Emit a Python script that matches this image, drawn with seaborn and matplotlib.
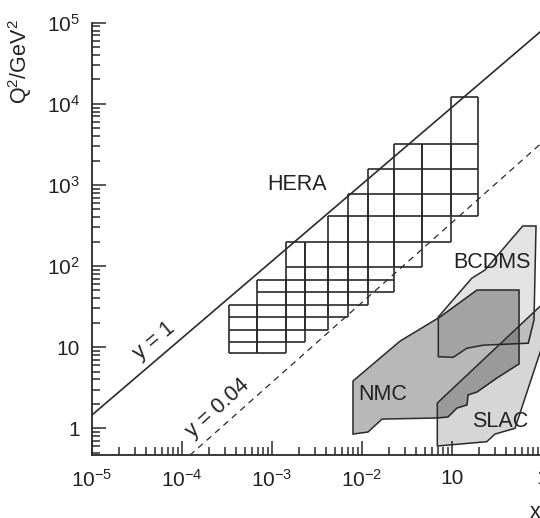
import numpy as np
import matplotlib
matplotlib.use('Agg')
import matplotlib.pyplot as plt
from matplotlib.patches import Polygon
from matplotlib.ticker import LogLocator, NullFormatter
import seaborn as sns

# kinematic limits y = 1 and y = 0.04 (end points)
y1_x = [1e-5, 1.0]
y1_q2 = [1.45, 8.0e4]
y004_x = [1.23e-4, 1.0]
y004_q2 = [0.465, 3300]

# HERA bins
hera_x_edges = [3.36e-4, 6.81e-4, 1.43e-3, 2.34e-3, 4.19e-3, 7.10e-3,
                1.17e-2, 2.30e-2, 4.71e-2, 9.82e-2, 0.198]
hera_q2_edges = [12270, 3177, 1563, 774, 415, 196, 96.7, 67.4, 47.5,
                 33.2, 23.4, 16.3, 11.7, 8.41]
# per x column: first and last Q2 edge index
hera_col_top = [9, 7, 5, 5, 4, 3, 2, 1, 1, 0]
hera_col_bottom = [13, 13, 12, 11, 10, 9, 8, 6, 5, 4]

# fixed target regions
nmc_x = [8.0e-3, 8.0e-3, 0.01175, 0.01683, 0.0687, 0.091, 0.1146, 0.148,
         0.152, 0.191, 0.318, 0.532, 0.56, 0.56, 0.191, 0.0741, 0.0267]
nmc_q2 = [3.83, 0.85, 0.90, 1.30, 1.34, 1.38, 1.78, 1.94,
          2.58, 2.80, 4.17, 6.0, 6.2, 50.7, 50.7, 23.6, 11.9]
bcdms_x = [0.0710, 0.0710, 0.1668, 0.2344, 0.615, 0.865, 0.821, 0.709,
           0.2245, 0.147, 0.104]
bcdms_q2 = [7.64, 23.6, 70.7, 89.5, 312, 312, 21.6, 11.2,
            10.6, 9.7, 7.5]
slac_x = [0.0692, 1.17, 1.17, 0.505, 0.303, 0.245, 0.0692]
slac_q2 = [2.05, 39.3, 16.8, 1.0, 0.85, 0.684, 0.605]

xtick_vals = [1e-5, 1e-4, 1e-3, 1e-2, 1e-1, 1]
xtick_labels = ['$10^{-5}$', '$10^{-4}$', '$10^{-3}$', '$10^{-2}$', '10', '1']
ytick_vals = [1, 10, 1e2, 1e3, 1e4, 1e5]
ytick_labels = ['1', '10', '$10^2$', '$10^3$', '$10^4$', '$10^5$']

sns.set_theme(style='ticks')
plt.rcParams['font.family'] = ['Liberation Sans', 'DejaVu Sans']
plt.rcParams['mathtext.fontset'] = 'custom'
plt.rcParams['mathtext.rm'] = 'Liberation Sans'
plt.rcParams['mathtext.it'] = 'Liberation Sans:italic'
plt.rcParams['mathtext.default'] = 'regular'

ink = '#2a2a2a'
fig = plt.figure(figsize=(5.4, 5.18), dpi=100)
ax = fig.add_axes([91.7 / 540, 63 / 518, 450 / 540, 432.3 / 518])
ax.set_xscale('log')
ax.set_yscale('log')

# regions, black with alpha so overlaps darken
for xs, qs, a in [(nmc_x, nmc_q2, 0.28), (bcdms_x, bcdms_q2, 0.11), (slac_x, slac_q2, 0.16)]:
    ax.add_patch(Polygon(np.column_stack([xs, qs]), closed=True,
                         facecolor=(0, 0, 0, a), edgecolor=ink, lw=1.1, zorder=2))

# HERA grid
for i in range(len(hera_col_top)):
    x0, x1 = hera_x_edges[i], hera_x_edges[i + 1]
    t, b = hera_col_top[i], hera_col_bottom[i]
    qs = hera_q2_edges[t:b + 1]
    ax.hlines(qs, x0, x1, color=ink, lw=1.2, zorder=3)
    ax.vlines([x0, x1], qs[-1], qs[0], color=ink, lw=1.2, zorder=3)

sns.lineplot(x=y1_x, y=y1_q2, ax=ax, color=ink, lw=1.2, zorder=4)
sns.lineplot(x=y004_x, y=y004_q2, ax=ax, color=ink, lw=0.9, zorder=4,
             linestyle=(0, (5, 4)))

ax.set_xlim(1e-5, 1)
ax.set_ylim(0.469, 1e5)

fs = 15.5
ax.text(1.9e-3, 1000, 'HERA', fontsize=fs, ha='center', va='center', color='#222')
ax.text(0.28, 112, 'BCDMS', fontsize=fs, ha='center', va='center', color='#222')
ax.text(0.017, 2.61, 'NMC', fontsize=fs, ha='center', va='center', color='#222')
ax.text(0.348, 1.21, 'SLAC', fontsize=fs, ha='center', va='center', color='#222')
ax.text(4.9e-5, 11.9, 'y = 1', fontsize=fs, ha='center', va='center',
        rotation=40, rotation_mode='anchor', color='#222')
ax.text(2.53e-4, 1.78, 'y = 0.04', fontsize=fs, ha='center', va='center',
        rotation=42, rotation_mode='anchor', color='#222')

ax.set_xticks(xtick_vals, xtick_labels)
ax.set_yticks(ytick_vals, ytick_labels)
ax.xaxis.set_minor_locator(LogLocator(base=10, subs=np.arange(2, 10), numticks=30))
ax.yaxis.set_minor_locator(LogLocator(base=10, subs=np.arange(2, 10), numticks=30))
ax.xaxis.set_minor_formatter(NullFormatter())
ax.yaxis.set_minor_formatter(NullFormatter())
ax.tick_params(which='major', direction='in', length=10, width=1.1, color=ink,
               labelsize=15, labelcolor='#222')
ax.tick_params(which='minor', direction='in', length=5.5, width=1.1, color=ink)
ax.tick_params(axis='x', which='major', pad=10)
ax.tick_params(axis='y', which='major', pad=8.5)
sns.despine(ax=ax)
for s in ['left', 'bottom']:
    ax.spines[s].set_color(ink)
    ax.spines[s].set_linewidth(1.3)
ax.set_xlabel('')
ax.set_ylabel('')

fig.text(20 / 540, 1 - 62 / 518, 'Q$^2$/GeV$^2$', rotation=90, ha='center',
         va='center', fontsize=15.5, color='#222')
fig.text(535 / 540, 1 - 512 / 518, 'x', ha='center', va='center',
         fontsize=15.5, color='#222')

fig.savefig('out.png', dpi=100)
